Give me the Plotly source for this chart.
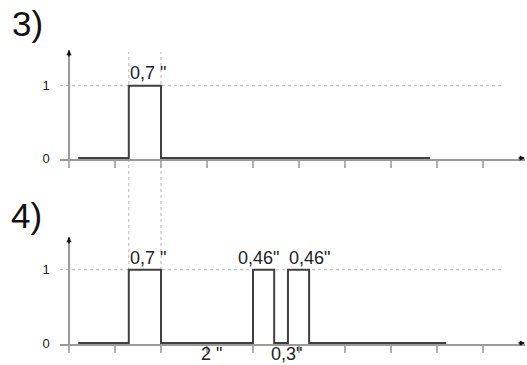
import plotly.graph_objects as go

# ---- data -------------------------------------------------------------
TICKS = [0, 1, 2, 3, 4, 5, 6, 7, 8, 9]          # time grid (seconds)
Y_TICKS = [0, 1]
Y_TICK_TEXT = ["0", "1"]

# pulses as (start, duration)
PULSES_3 = [(1.3, 0.7)]
PULSES_4 = [(1.3, 0.7), (4.0, 0.46), (4.76, 0.46)]
SIGNAL_START_3, SIGNAL_END_3 = 0.2, 7.85
SIGNAL_START_4, SIGNAL_END_4 = 0.2, 8.2

LABELS_3_TEXT = ['0,7 "']
LABELS_3_X = [1.71]
LABELS_4_TOP_TEXT = ['0,7 "', '0,46"', '0,46"']
LABELS_4_TOP_X = [1.71, 4.11, 5.23]
LABELS_4_BOT_TEXT = ['2 "', '0,3"']
LABELS_4_BOT_X = [3.10, 4.72]

PANEL_TITLES = ["3)", "4)"]
GUIDE_X = [1.3, 2.0]      # vertical dotted guides
GUIDE_END = 9.43          # end of horizontal dotted guide

# ---- geometry ---------------------------------------------------------
W, H = 527, 365
X0_PX, UNIT_PX = 69, 46
XL_PX, XR_PX = 60, 525
X_RANGE = [(XL_PX - X0_PX) / UNIT_PX, (XR_PX - X0_PX) / UNIT_PX]

def step(pulses, start, end):
    xs, ys = [start], [0]
    for s, d in pulses:
        xs += [s, s, s + d, s + d]
        ys += [0, 1, 1, 0]
    xs.append(end)
    ys.append(0)
    return xs, ys

SIG_COLOR = "#404040"
AXIS_COLOR = "#9a9a9a"
GUIDE_COLOR = "#b5b5b5"
FONT = "Liberation Sans, Arial, sans-serif"

fig = go.Figure()
x3, y3 = step(PULSES_3, SIGNAL_START_3, SIGNAL_END_3)
x4, y4 = step(PULSES_4, SIGNAL_START_4, SIGNAL_END_4)
fig.add_trace(go.Scatter(x=x3, y=y3, mode="lines", xaxis="x", yaxis="y",
                         line=dict(color=SIG_COLOR, width=2), hoverinfo="skip"))
fig.add_trace(go.Scatter(x=x4, y=y4, mode="lines", xaxis="x2", yaxis="y2",
                         line=dict(color=SIG_COLOR, width=2), hoverinfo="skip"))

# panel pixel extents (top px of y-axis, px of zero line, px of one-line)
top_panel = (50, 159, 86)
bot_panel = (237, 344, 270)

def ydom(p):
    top, zero, _ = p
    return [(H - zero) / H, (H - top) / H]

def yrng(p):
    top, zero, one = p
    unit = zero - one
    return [-1.0 / unit, (zero - top) / unit]

xcommon = dict(range=X_RANGE, domain=[XL_PX / W, XR_PX / W], showgrid=False,
               zeroline=False, showline=True, linecolor=AXIS_COLOR, linewidth=2,
               ticks="outside", ticklen=7, tickwidth=1.5, tickcolor="#b0b0b0",
               tickvals=TICKS, showticklabels=False, fixedrange=True,
               automargin=False)
ycommon = dict(showgrid=False, zeroline=False, showline=True, linecolor=AXIS_COLOR,
               linewidth=1.5, ticks="", tickvals=Y_TICKS, ticktext=Y_TICK_TEXT,
               tickfont=dict(size=13, color="#222", family=FONT),
               ticklabelstandoff=16, anchor="free", position=X0_PX / W,
               fixedrange=True, automargin=False)

fig.update_layout(
    width=W, height=H, margin=dict(l=0, r=0, t=0, b=0, autoexpand=False),
    paper_bgcolor="white", plot_bgcolor="white", showlegend=False,
    xaxis=dict(anchor="y", **xcommon),
    yaxis=dict(domain=ydom(top_panel), range=yrng(top_panel), **ycommon),
    xaxis2=dict(anchor="y2", **xcommon),
    yaxis2=dict(domain=ydom(bot_panel), range=yrng(bot_panel), **ycommon),
)

shapes = []
for yref in ["y", "y2"]:
    shapes.append(dict(type="line", xref="x", yref=yref, x0=X_RANGE[0], x1=GUIDE_END,
                       y0=1, y1=1, line=dict(color=GUIDE_COLOR, width=1, dash="dot"),
                       layer="below"))
for gx in GUIDE_X:
    shapes.append(dict(type="line", xref="x", yref="paper", x0=gx, x1=gx,
                       y0=(H - bot_panel[2]) / H, y1=(H - 52) / H,
                       line=dict(color=GUIDE_COLOR, width=1, dash="dot"), layer="below"))
fig.update_layout(shapes=shapes)

ann = []
# arrowheads
for xr, yr, p in [("x", "y", top_panel), ("x2", "y2", bot_panel)]:
    ann.append(dict(x=X_RANGE[1], y=0, xref=xr, yref=yr, text="", showarrow=True,
                    ax=-8, ay=0, arrowhead=2, arrowsize=0.7, arrowwidth=1.5,
                    arrowcolor="#111"))
    ann.append(dict(x=0, y=yrng(p)[1], xref=xr, yref=yr, text="", showarrow=True,
                    ax=0, ay=8, arrowhead=2, arrowsize=0.7, arrowwidth=1.5,
                    arrowcolor="#111"))

lab_font = dict(size=18, color="#222", family=FONT)
for t, x in zip(LABELS_3_TEXT, LABELS_3_X):
    ann.append(dict(x=x, y=1, xref="x", yref="y", text=t, showarrow=False,
                    xanchor="center", yanchor="bottom", yshift=1, font=lab_font))
for t, x in zip(LABELS_4_TOP_TEXT, LABELS_4_TOP_X):
    ann.append(dict(x=x, y=1, xref="x2", yref="y2", text=t, showarrow=False,
                    xanchor="center", yanchor="bottom", yshift=0, font=lab_font))
for t, x in zip(LABELS_4_BOT_TEXT, LABELS_4_BOT_X):
    ann.append(dict(x=x, y=0, xref="x2", yref="y2", text=t, showarrow=False,
                    xanchor="center", yanchor="top", yshift=1, font=lab_font))

title_font = dict(size=35, color="#111", family=FONT)
ann.append(dict(x=10 / W, y=1 - 2 / H, xref="paper", yref="paper", text=PANEL_TITLES[0],
                showarrow=False, xanchor="left", yanchor="top", font=title_font))
ann.append(dict(x=9 / W, y=1 - 194 / H, xref="paper", yref="paper", text=PANEL_TITLES[1],
                showarrow=False, xanchor="left", yanchor="top", font=title_font))
fig.update_layout(annotations=ann)

fig.write_html("out.html", config={"displayModeBar": False},
               post_script="document.body.style.margin='0';document.body.style.padding='0';")
